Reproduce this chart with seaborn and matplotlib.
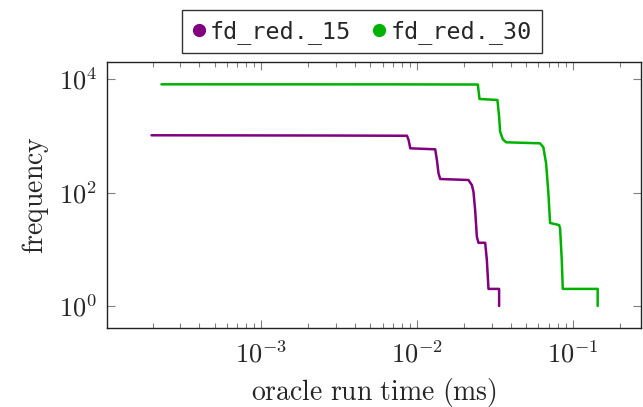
import matplotlib
matplotlib.use("Agg")
import matplotlib.pyplot as plt
import matplotlib.ticker as mticker
from matplotlib.lines import Line2D
import seaborn as sns
import pandas as pd
import math

series_names = ["fd_red._15", "fd_red._30"]

x_15 = [1.97e-4, 2.64e-3, 8.59e-3, 8.80e-3, 9.02e-3, 1.304e-2, 1.337e-2, 1.369e-2, 1.404e-2,
        2.132e-2, 2.242e-2, 2.295e-2, 2.353e-2, 2.413e-2, 2.471e-2, 2.729e-2, 2.797e-2,
        2.866e-2, 3.353e-2, 3.353e-2]
y_15 = [1020, 1010, 1000, 842, 601, 577, 374, 218, 173,
        166, 135, 103, 49, 16.6, 13, 13, 6.5,
        2, 2, 1]

x_30 = [2.28e-4, 7.9e-3, 2.449e-2, 2.508e-2, 3.271e-2, 3.353e-2, 3.404e-2, 3.543e-2, 3.720e-2,
        6.144e-2, 6.450e-2, 6.713e-2, 6.946e-2, 7.122e-2, 8.134e-2, 8.254e-2, 8.464e-2,
        8.590e-2, 0.1439, 0.1439]
y_30 = [8070, 8050, 8000, 4450, 4270, 2170, 1178, 865, 767,
        736, 625, 327, 97, 29, 26.7, 23.4, 6.5,
        2, 2, 1]

colors = ["#800080", "#00b200"]

df = pd.concat([
    pd.DataFrame({"x": x_15, "y": y_15, "series": series_names[0]}),
    pd.DataFrame({"x": x_30, "y": y_30, "series": series_names[1]}),
], ignore_index=True)

sns.set_style("ticks")
plt.rcParams["mathtext.fontset"] = "cm"
plt.rcParams["font.family"] = ["DejaVu Serif"]

fig = plt.figure(figsize=(6.43, 4.07), dpi=100)
ax = fig.add_axes([107 / 643, 1 - 328 / 407, 534 / 643, 266 / 407])

sns.lineplot(data=df, x="x", y="y", hue="series", palette=colors, estimator=None,
             sort=False, units="series", linewidth=1.8, legend=False, ax=ax)

ax.set_xscale("log")
ax.set_yscale("log")
ax.set_xlim(1.02e-4, 0.273)
ax.set_ylim(10 ** -0.388, 10 ** 4.30)

ax.yaxis.set_major_locator(mticker.FixedLocator([1, 100, 10000]))
ax.yaxis.set_minor_locator(mticker.NullLocator())
ax.xaxis.set_major_locator(mticker.LogLocator(base=10, numticks=10))
ax.xaxis.set_minor_locator(mticker.LogLocator(base=10, subs=range(2, 10), numticks=20))


def fmt(v, pos):
    e = int(round(math.log10(v)))
    return r"$10^{%d}$" % e


ax.xaxis.set_major_formatter(mticker.FuncFormatter(fmt))
ax.yaxis.set_major_formatter(mticker.FuncFormatter(fmt))
ax.xaxis.set_minor_formatter(mticker.NullFormatter())

ax.tick_params(which="both", direction="in", top=True, right=True, color="#808080",
               labelsize=19, width=0.8)
ax.tick_params(which="major", length=6)
ax.tick_params(axis="x", which="major", pad=9)
ax.tick_params(axis="y", which="major", pad=7)
ax.tick_params(which="minor", length=3.5)
for s in ax.spines.values():
    s.set_linewidth(1.0)
    s.set_color("#222222")

ax.set_xlabel(r"$\mathrm{oracle\ run\ time\ (ms)}$", fontsize=20, labelpad=6)
ax.set_ylabel(r"$\mathrm{frequency}$", fontsize=20, labelpad=6)

handles = [Line2D([], [], linestyle="none", marker="o", markersize=8.5, color=c) for c in colors]
leg = ax.legend(handles, series_names, loc="lower center", bbox_to_anchor=(0.4775, 1.025),
                ncol=2, frameon=True, fancybox=False, handlelength=0.6, handletextpad=0.2,
                columnspacing=0.9, borderpad=0.4, borderaxespad=0.1,
                prop={"family": "DejaVu Sans Mono", "size": 16.8})
leg.get_frame().set_edgecolor("black")
leg.get_frame().set_linewidth(1.0)

fig.savefig("out.png", dpi=100)
